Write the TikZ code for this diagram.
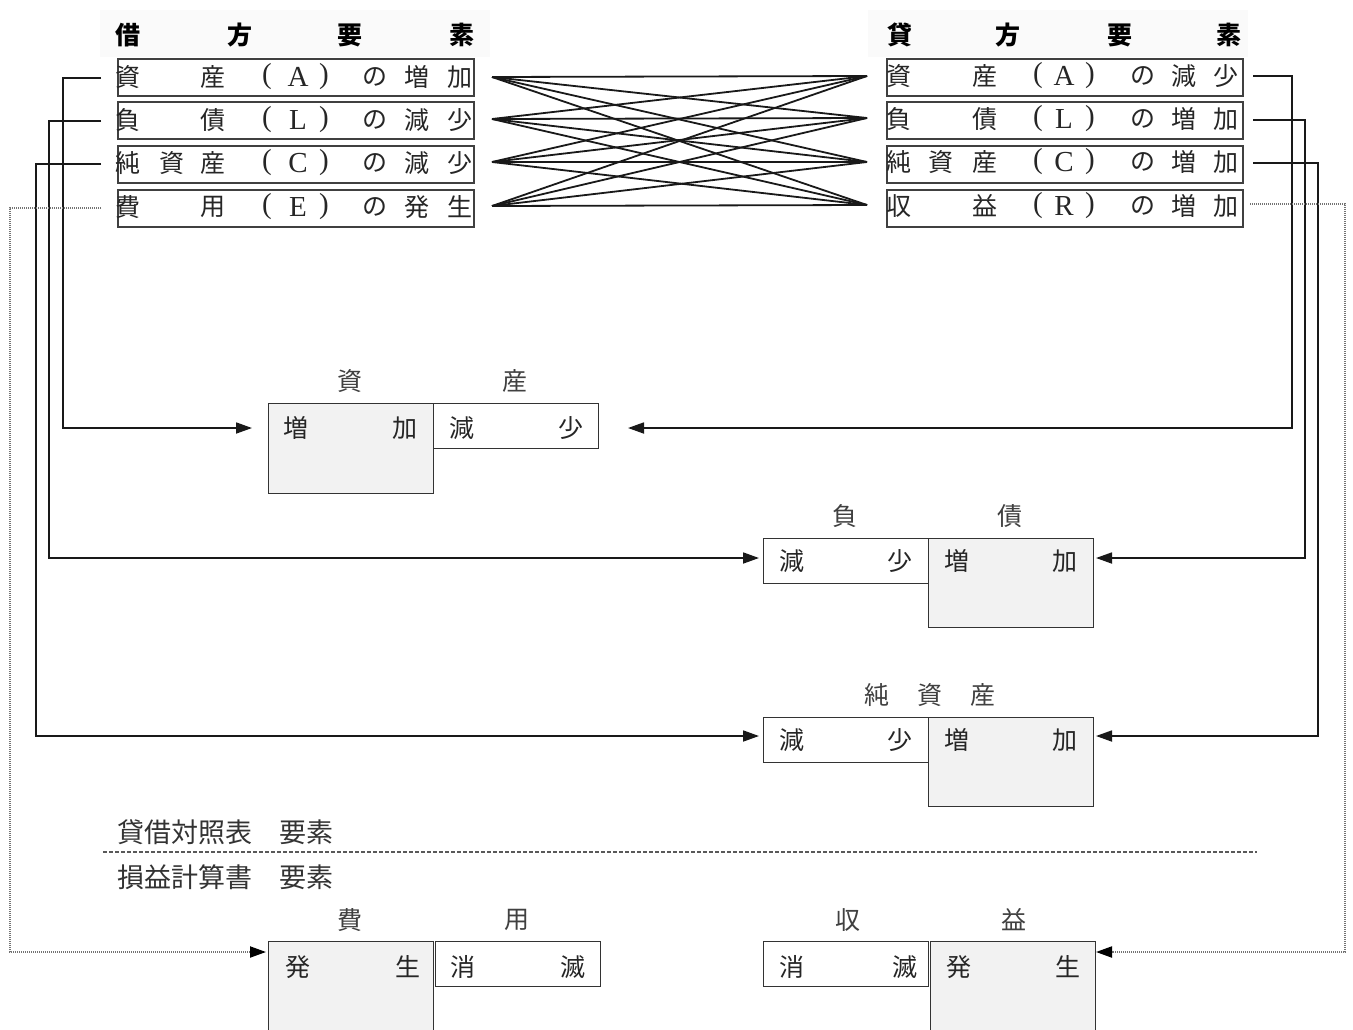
\documentclass[tikz,border=0pt]{standalone}
\usepackage{fontspec}
\setmainfont{Liberation Serif}
\newfontfamily\cjk{Noto Sans CJK JP}
\usetikzlibrary{arrows.meta}
\newcommand\lt[1]{{\rmfamily\fontsize{29}{29}\selectfont #1}}
\newcommand\chrow[4][ch]{\foreach \xx/\cc [count=\kk] in {#4} \node[#1] (#2-\kk) at (\xx,#3) {\cc};}
\begin{document}
\begin{tikzpicture}[x=1pt,y=-1pt,
  ch/.style={font=\cjk\fontsize{25}{25}\selectfont, inner sep=0pt, text=black!85},
  lab/.style={font=\cjk\fontsize{25}{25}\selectfont, inner sep=0pt, text=black!75},
  hd/.style={font=\cjk\bfseries\fontsize{25}{25}\selectfont, inner sep=0pt, text=black},
  rowbox/.style={draw=black!75, line width=1.7pt, minimum width=356pt, minimum height=37pt, anchor=north west, inner sep=0pt},
  drbox/.style={draw=black!80, line width=1.4pt, fill=black!5, minimum width=165pt, anchor=north west, inner sep=0pt},
  crbox/.style={draw=black!80, line width=1.4pt, fill=white, minimum width=165pt, minimum height=45pt, anchor=north west, inner sep=0pt},
  cross/.style={line width=1.8pt, black!90},
  conn/.style={line width=1.8pt, black!90, -{Triangle[length=16pt,width=11pt]}},
  dconn/.style={line width=2pt, black!55, dash pattern=on 1pt off 1pt, -{Triangle[length=16pt,width=11pt,color=black]}},
  sep/.style={line width=1.5pt, black!65, dash pattern=on 3.5pt off 2.5pt}
]
\clip (0,0) rectangle (1353,1029);
\fill[white] (0,0) rectangle (1353,1029);
% header backgrounds
\fill[black!2] (100,10) rectangle (490,57);
\fill[black!2] (868,10) rectangle (1248,57);
% headers
\chrow[hd]{hl}{35}{128/借, 240/方, 350/要, 462/素}
\chrow[hd]{hr}{35}{900/貸, 1008/方, 1120/要, 1229/素}
% row boxes
\node[rowbox] (L1) at (117,58) {};
\node[rowbox] (L2) at (117,101) {};
\node[rowbox] (L3) at (117,145) {};
\node[rowbox] (L4) at (117,189) {};
\node[rowbox] (R1) at (886,58) {};
\node[rowbox] (R2) at (886,101) {};
\node[rowbox] (R3) at (886,145) {};
\node[rowbox] (R4) at (886,189) {};
% row texts left
\chrow{tl1}{77}{128/資, 213/産, 267/\lt{(}, 298/\lt{A}, 324/\lt{)}, 375/の, 417/増, 460/加}
\chrow{tl2}{120}{128/負, 213/債, 267/\lt{(}, 298/\lt{L}, 324/\lt{)}, 375/の, 417/減, 460/少}
\chrow{tl3}{163}{128/純, 172/資, 213/産, 267/\lt{(}, 298/\lt{C}, 324/\lt{)}, 375/の, 417/減, 460/少}
\chrow{tl4}{207}{128/費, 213/用, 267/\lt{(}, 298/\lt{E}, 324/\lt{)}, 375/の, 417/発, 460/生}
% row texts right
\chrow{tr1}{76}{899/資, 985/産, 1038/\lt{(}, 1064/\lt{A}, 1090/\lt{)}, 1143/の, 1184/減, 1226/少}
\chrow{tr2}{119}{899/負, 985/債, 1038/\lt{(}, 1064/\lt{L}, 1090/\lt{)}, 1143/の, 1184/増, 1226/加}
\chrow{tr3}{162}{899/純, 941/資, 985/産, 1038/\lt{(}, 1064/\lt{C}, 1090/\lt{)}, 1143/の, 1184/増, 1226/加}
\chrow{tr4}{206}{899/収, 985/益, 1038/\lt{(}, 1064/\lt{R}, 1090/\lt{)}, 1143/の, 1184/増, 1226/加}
% crossing lines
\coordinate (cl1) at (492,77); \coordinate (cl2) at (492,119);
\coordinate (cl3) at (492,162); \coordinate (cl4) at (492,206);
\coordinate (cr1) at (867,76); \coordinate (cr2) at (867,118);
\coordinate (cr3) at (867,162); \coordinate (cr4) at (867,205);
\foreach \i in {1,...,4}{\foreach \j in {1,...,4}{\draw[cross] (cl\i) -- (cr\j);}}
% T-account boxes
\node[drbox, minimum height=90pt] (ADr) at (268,403) {};
\node[crbox] (ACr) at (433,403) {};
\node[crbox] (LDr) at (763,538) {};
\node[drbox, minimum height=89pt] (LCr) at (928,538) {};
\node[crbox] (CDr) at (763,717) {};
\node[drbox, minimum height=89pt] (CCr) at (928,717) {};
\node[drbox, minimum height=120pt] (EDr) at (268,941) {};
\node[crbox] (ECr) at (435,941) {};
\node[crbox] (RDr) at (763,941) {};
\node[drbox, minimum height=120pt] (RCr) at (930,941) {};
% T-account titles
\chrow[lab]{ta}{381}{350/資, 515/産}
\chrow[lab]{tlb}{516}{845/負, 1010/債}
\chrow[lab]{tc}{695}{877/純, 930/資, 983/産}
\chrow[lab]{te}{920}{350/費, 517/用}
\chrow[lab]{trv}{920}{848/収, 1014/益}
% T-account entries
\chrow{ia}{428}{296/増, 405/加, 462/減, 571/少}
\chrow{il}{561}{792/減, 900/少, 957/増, 1065/加}
\chrow{ic}{740}{792/減, 900/少, 957/増, 1065/加}
\chrow{ie}{967}{298/発, 408/生, 463/消, 573/滅}
\chrow{ir}{967}{792/消, 905/滅, 959/発, 1068/生}
% section labels
\node[font=\cjk\fontsize{27}{27}\selectfont, text=black!80, inner sep=0pt, anchor=west] (bs) at (117,832) {貸借対照表　要素};
\node[font=\cjk\fontsize{27}{27}\selectfont, text=black!80, inner sep=0pt, anchor=west] (pl) at (117,877) {損益計算書　要素};
\coordinate (s1) at (103,852); \coordinate (s2) at (1257,852);
\draw[sep] (s1) -- (s2);
% connectors left
\coordinate (la1) at (101,78);  \coordinate (bl1) at (63,300);  \coordinate (tA1) at (252,428);
\coordinate (la2) at (101,121); \coordinate (bl2) at (49,300);  \coordinate (tL1) at (759,558);
\coordinate (la3) at (101,164); \coordinate (bl3) at (36,300);  \coordinate (tC1) at (759,736);
\coordinate (la4) at (101,208); \coordinate (bl4) at (10,300);  \coordinate (tE1) at (266,952);
\draw[conn] (la1) -| (bl1) |- (tA1);
\draw[conn] (la2) -| (bl2) |- (tL1);
\draw[conn] (la3) -| (bl3) |- (tC1);
\draw[dconn] (la4) -| (bl4) |- (tE1);
% connectors right
\coordinate (ra1) at (1253,76);  \coordinate (br1) at (1292,300); \coordinate (tA2) at (628,428);
\coordinate (ra2) at (1253,120); \coordinate (br2) at (1305,300); \coordinate (tL2) at (1096,558);
\coordinate (ra3) at (1253,163); \coordinate (br3) at (1318,300); \coordinate (tC2) at (1096,736);
\coordinate (ra4) at (1250,204); \coordinate (br4) at (1345,300); \coordinate (tR2) at (1096,952);
\draw[conn] (ra1) -| (br1) |- (tA2);
\draw[conn] (ra2) -| (br2) |- (tL2);
\draw[conn] (ra3) -| (br3) |- (tC2);
\draw[dconn] (ra4) -| (br4) |- (tR2);
\end{tikzpicture}
\end{document}
